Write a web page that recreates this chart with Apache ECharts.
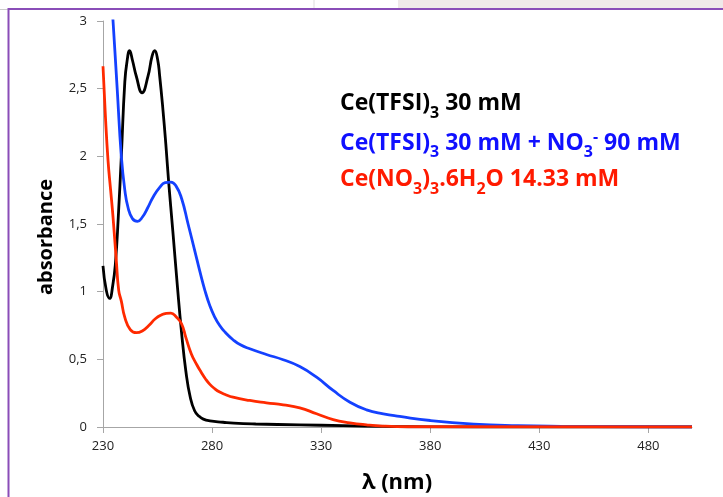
<!DOCTYPE html>
<html>
<head>
<meta charset="utf-8">
<script src="https://cdn.jsdelivr.net/npm/echarts@6/dist/echarts.min.js"></script>
<style>
html, body { margin: 0; padding: 0; background: #fff; }
#chart { width: 723px; height: 497px; }
</style>
</head>
<body>
<div id="chart"></div>
<script>
// wavelength (nm) / absorbance
const blackNm = [230, 231.5, 233, 234.5, 235.7, 237, 238.4, 240, 241, 242.2, 243.5, 245.3, 247.9, 250.6, 252.5, 253.7, 255, 256, 257.5, 258.8, 260.1, 262, 264, 266, 268, 270, 272, 274, 276, 279, 285, 290, 300, 320, 340, 360, 380, 420, 500];
const blackAbs = [1.19, 1.01, 0.95, 1.05, 1.21, 1.55, 2.0, 2.55, 2.7, 2.78, 2.71, 2.59, 2.47, 2.59, 2.74, 2.78, 2.72, 2.59, 2.34, 2.09, 1.81, 1.45, 1.06, 0.7, 0.41, 0.22, 0.12, 0.08, 0.058, 0.045, 0.035, 0.028, 0.022, 0.016, 0.01, 0.004, 0.001, 0, 0];

const blueNm = [230, 232, 234.6, 236.5, 238.4, 240, 241.5, 243.5, 245.8, 248, 250.5, 253, 256, 258.5, 261.1, 263.5, 266, 269, 272.1, 274.4, 276.7, 279, 281, 283.5, 286, 289.6, 293, 297.3, 304.9, 312.6, 320.2, 327.9, 335.5, 343.2, 350.8, 358.5, 366, 380, 400, 420, 440, 470, 500];
const blueAbs = [4.2, 3.65, 3.0, 2.5, 2.0, 1.75, 1.62, 1.54, 1.52, 1.55, 1.62, 1.7, 1.77, 1.805, 1.81, 1.78, 1.69, 1.5, 1.3, 1.15, 1.01, 0.895, 0.82, 0.75, 0.7, 0.645, 0.607, 0.578, 0.536, 0.497, 0.447, 0.368, 0.27, 0.183, 0.127, 0.097, 0.078, 0.048, 0.022, 0.01, 0.005, 0.002, 0];

const redNm = [230, 231, 232.3, 233.5, 234.6, 236.1, 237.2, 238.4, 240, 242.5, 245.3, 248, 251, 254, 257, 259, 261.1, 263.5, 266, 268, 270.5, 273, 275, 277, 279, 281.2, 283.5, 286, 289.6, 297.3, 304.9, 312.6, 320.2, 327.9, 335.5, 343.2, 350.8, 358, 370, 500];
const redAbs = [2.666, 2.33, 1.97, 1.75, 1.55, 1.23, 1.01, 0.93, 0.81, 0.72, 0.697, 0.71, 0.75, 0.8, 0.83, 0.84, 0.842, 0.815, 0.763, 0.66, 0.54, 0.46, 0.405, 0.355, 0.315, 0.283, 0.258, 0.24, 0.22, 0.196, 0.179, 0.164, 0.142, 0.098, 0.055, 0.031, 0.016, 0.007, 0.002, 0];

const xTicks = [230, 280, 330, 380, 430, 480];

const FONT = 'Open Sans';
const axisGray = '#a6a6a6';

function pairs(xs, ys) {
  return xs.map((x, i) => [x, ys[i]]);
}

// rich text styles for the legend lines (subscripts / superscript)
function richFor(color) {
  return {
    b: { fontSize: 23, fontWeight: 'bold', fontFamily: FONT, fill: color },
    s: { fontSize: 16, fontWeight: 'bold', fontFamily: FONT, fill: color, padding: [19, 0, 0, 0] },
    p: { fontSize: 16, fontWeight: 'bold', fontFamily: FONT, fill: color, padding: [0, 0, 12, 0] }
  };
}

function spectrum(name, xs, ys, color) {
  return {
    name: name,
    type: 'line',
    data: pairs(xs, ys),
    showSymbol: false,
    smooth: 0.5,
    clip: true,
    lineStyle: { color: color, width: 2.8 },
    itemStyle: { color: color }
  };
}

let chart = echarts.init(document.getElementById('chart'));
chart.setOption({
  animation: false,
  backgroundColor: '#fff',
  grid: { left: 103, top: 21, right: 31, bottom: 70 },
  xAxis: {
    type: 'value',
    min: 230,
    max: 500,
    axisLine: { show: true, lineStyle: { color: axisGray, width: 1 } },
    axisTick: { show: true, length: 6, customValues: xTicks, lineStyle: { color: axisGray } },
    axisLabel: { customValues: xTicks, margin: 13, fontSize: 13, color: '#222', fontFamily: FONT },
    splitLine: { show: false }
  },
  yAxis: {
    type: 'value',
    min: 0,
    max: 3,
    interval: 0.5,
    axisLine: { show: true, lineStyle: { color: axisGray, width: 1 } },
    axisTick: { show: true, length: 6, lineStyle: { color: axisGray } },
    axisLabel: {
      margin: 16, fontSize: 13, color: '#222', fontFamily: FONT,
      formatter: v => String(v).replace('.', ',')
    },
    splitLine: { show: false }
  },
  series: [
    spectrum('Ce(TFSI)3 30 mM', blackNm, blackAbs, '#000000'),
    spectrum('Ce(TFSI)3 30 mM + NO3- 90 mM', blueNm, blueAbs, '#1441ff'),
    spectrum('Ce(NO3)3.6H2O 14.33 mM', redNm, redAbs, '#ff2a00')
  ],
  graphic: [
    // slide frame bits
    { type: 'rect', shape: { x: 398, y: 0, width: 325, height: 8 }, style: { fill: '#efe9e9' }, silent: true },
    { type: 'line', shape: { x1: 314, y1: 0, x2: 314, y2: 8 }, style: { stroke: '#dddddd', lineWidth: 1 }, silent: true },
    { type: 'line', shape: { x1: 0, y1: 9.5, x2: 8, y2: 9.5 }, style: { stroke: '#cccccc', lineWidth: 1 }, silent: true },
    { type: 'line', shape: { x1: 8, y1: 9, x2: 723, y2: 9 }, style: { stroke: '#8a4db8', lineWidth: 2 }, silent: true },
    { type: 'line', shape: { x1: 8.5, y1: 8, x2: 8.5, y2: 497 }, style: { stroke: '#8a4db8', lineWidth: 2 }, silent: true },
    // axis titles
    {
      type: 'text', x: 46, y: 237, rotation: Math.PI / 2,
      style: { text: 'absorbance', fontSize: 20, fontWeight: 'bold', fontFamily: FONT, fill: '#000', align: 'center', verticalAlign: 'middle' }
    },
    {
      type: 'text', x: 397, y: 483,
      style: { text: 'λ (nm)', fontSize: 22, fontWeight: 'bold', fontFamily: FONT, fill: '#000', align: 'center', verticalAlign: 'middle' }
    },
    // legend text
    {
      type: 'text', left: 340, top: 92,
      style: { text: '{b|Ce(TFSI)}{s|3}{b| 30 mM}', rich: richFor('#000000') }
    },
    {
      type: 'text', left: 340, top: 129,
      style: { text: '{b|Ce(TFSI)}{s|3}{b| 30 mM + NO}{s|3}{p|-}{b| 90 mM}', rich: richFor('#1010ff') }
    },
    {
      type: 'text', left: 340, top: 168,
      style: { text: '{b|Ce(NO}{s|3}{b|)}{s|3}{b|.6H}{s|2}{b|O 14.33 mM}', rich: richFor('#ff1a00') }
    }
  ]
});
</script>
</body>
</html>
